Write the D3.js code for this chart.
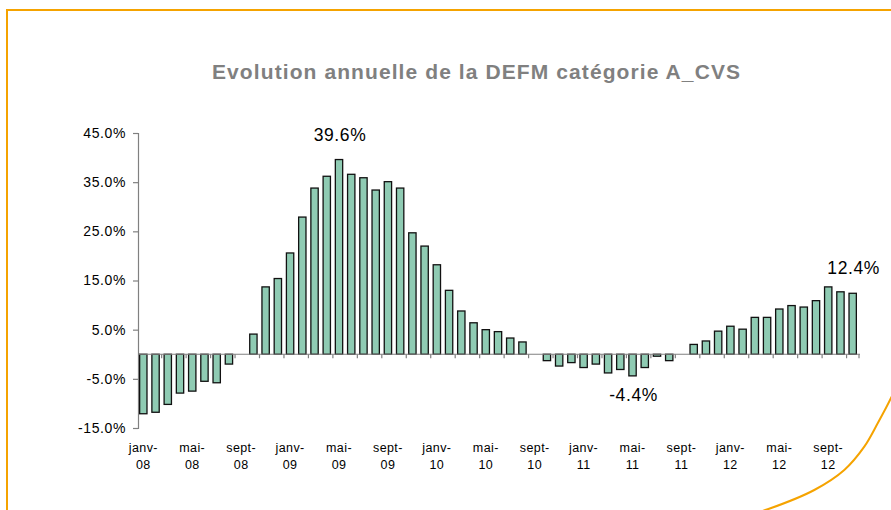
<!DOCTYPE html>
<html>
<head>
<meta charset="utf-8">
<script src="https://cdnjs.cloudflare.com/ajax/libs/d3/7.8.5/d3.min.js"></script>
<style>
    body { margin: 0; background: #fff; }
    svg text { font-family: 'Liberation Sans', Arial, sans-serif; }
</style>
</head>
<body>
<div id="chart"></div>
<script>
// Chart data
const monthNames = ['janv', 'févr', 'mars', 'avr', 'mai', 'juin', 'juil', 'août', 'sept', 'oct', 'nov', 'déc'];
const years = ['08', '09', '10', '11', '12'];
const values = [
    -12.1, -11.8, -10.2, -7.9, -7.5, -5.5, -5.8, -2.0, null, 4.1, 13.7, 15.4,
    20.6, 27.9, 33.8, 36.2, 39.6, 36.6, 35.9, 33.4, 35.1, 33.8, 24.7, 22.0,
    18.2, 13.0, 8.8, 6.4, 5.0, 4.6, 3.3, 2.5, null, -1.3, -2.4, -1.7,
    -2.7, -2.0, -3.8, -3.1, -4.4, -2.7, -0.4, -1.3, null, 2.0, 2.7, 4.7,
    5.7, 5.1, 7.5, 7.5, 9.2, 9.9, 9.6, 10.9, 13.7, 12.7, 12.4
];
const yTicks = [-15, -5, 5, 15, 25, 35, 45];
const labelled = [16, 40, 58]; // bars with a value label
const title = 'Evolution annuelle de la DEFM catégorie A_CVS';

var drawChart = function () {
    const width = 891;
    const height = 510;
    const font = "'Liberation Sans', Arial, sans-serif";

    // one category per month, janv-08 onwards
    const categories = values.map((v, i) => ({
        key: i,
        month: monthNames[i % 12],
        year: years[Math.floor(i / 12)],
        value: v
    }));

    const svg = d3.select('#chart')
        .append('svg')
        .attr('width', width)
        .attr('height', height)
        .style('display', 'block')
        .style('background', '#fff');

    // orange frame of the slide
    svg.append('path')
        .attr('d', 'M7,515 V10 H895')
        .attr('fill', 'none')
        .attr('stroke', '#F5A300')
        .attr('stroke-width', 2);

    const corner = [[897, 384], [891, 398], [877.7, 423.3], [864.3, 446.7], [844.3, 470], [814.3, 490], [767.7, 509.3], [752, 514]];
    svg.append('path')
        .attr('d', d3.line().curve(d3.curveCatmullRom)(corner))
        .attr('fill', 'none')
        .attr('stroke', '#F5A300')
        .attr('stroke-width', 2);

    // title
    svg.append('text')
        .attr('x', 476)
        .attr('y', 79)
        .attr('text-anchor', 'middle')
        .attr('font-family', font)
        .attr('font-size', 21)
        .attr('font-weight', 'bold')
        .attr('fill', '#808080')
        .attr('textLength', 528)
        .attr('lengthAdjust', 'spacing')
        .text(title);

    // scales
    const x = d3.scaleBand()
        .domain(categories.map(d => d.key))
        .range([137.2, 858.8]);

    const y = d3.scaleLinear()
        .domain([-15, 45])
        .range([428, 133]);

    const barW = x.bandwidth() * 0.6;

    // y axis
    const yAxis = svg.append('g')
        .attr('transform', 'translate(138,0)')
        .call(d3.axisLeft(y)
            .tickValues(yTicks)
            .tickSize(5)
            .tickPadding(7)
            .tickFormat(d => d.toFixed(1) + '%'));

    yAxis.select('.domain').attr('stroke', '#808080').attr('stroke-width', 1.2);
    yAxis.selectAll('.tick line').attr('stroke', '#808080').attr('stroke-width', 1.2);
    yAxis.selectAll('.tick text')
        .attr('font-size', 14)
        .attr('letter-spacing', 0.6)
        .attr('fill', '#000')
        .attr('font-family', font);

    // bars
    svg.append('g')
        .selectAll('rect')
        .data(categories.filter(d => d.value !== null))
        .enter().append('rect')
        .attr('x', d => x(d.key) + (x.bandwidth() - barW) / 2)
        .attr('y', d => y(Math.max(0, d.value)))
        .attr('width', barW)
        .attr('height', d => Math.abs(y(d.value) - y(0)))
        .attr('fill', '#8FCBB3')
        .attr('stroke', '#111')
        .attr('stroke-width', 1.3);

    // zero line with small ticks every two months
    const zero = svg.append('g');
    zero.append('line')
        .attr('x1', 138)
        .attr('x2', 860)
        .attr('y1', y(0))
        .attr('y2', y(0))
        .attr('stroke', '#808080')
        .attr('stroke-width', 1.2);

    zero.selectAll('.xtick')
        .data(categories.filter(d => d.key % 2 === 0 && d.key > 0))
        .enter().append('line')
        .attr('class', 'xtick')
        .attr('x1', d => x(d.key))
        .attr('x2', d => x(d.key))
        .attr('y1', y(0))
        .attr('y2', y(0) + 4)
        .attr('stroke', '#808080')
        .attr('stroke-width', 1.2);
    zero.append('line')
        .attr('x1', 859).attr('x2', 859)
        .attr('y1', y(0)).attr('y2', y(0) + 4)
        .attr('stroke', '#808080')
        .attr('stroke-width', 1.2);

    // month labels every four months
    const xLabel = svg.append('g')
        .selectAll('text')
        .data(categories.filter(d => d.key % 4 === 0))
        .enter().append('text')
        .attr('text-anchor', 'middle')
        .attr('font-family', font)
        .attr('font-size', 12.5)
        .attr('letter-spacing', 0.4)
        .attr('fill', '#000');

    xLabel.append('tspan')
        .attr('x', d => x(d.key) + x.bandwidth() / 2)
        .attr('y', 452)
        .text(d => d.month + '-');
    xLabel.append('tspan')
        .attr('x', d => x(d.key) + x.bandwidth() / 2)
        .attr('y', 469)
        .text(d => d.year);

    // value labels
    svg.append('g')
        .selectAll('text')
        .data(labelled.map(i => categories[i]))
        .enter().append('text')
        .attr('x', d => x(d.key) + x.bandwidth() / 2 + 1)
        .attr('y', d => d.value >= 0 ? y(d.value) - 19 : y(d.value) + 25)
        .attr('text-anchor', 'middle')
        .attr('font-family', font)
        .attr('font-size', 17.5)
        .attr('letter-spacing', 0.6)
        .attr('fill', '#000')
        .text(d => d.value.toFixed(1) + '%');
};

drawChart();
</script>
</body>
</html>
